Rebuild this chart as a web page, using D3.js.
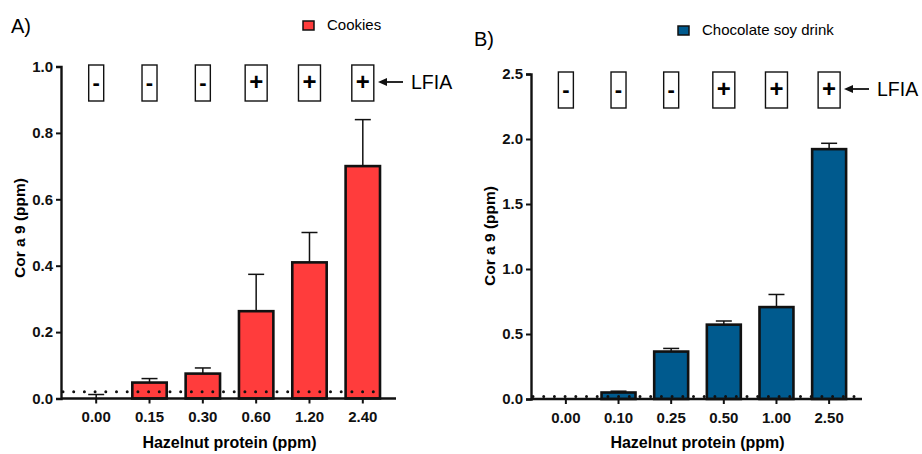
<!DOCTYPE html>
<html>
<head>
<meta charset="utf-8">
<script src="https://cdn.jsdelivr.net/npm/d3@7"></script>
<style>
  body { margin: 0; background: #fff; }
  text { font-family: "Liberation Sans", Arial, sans-serif; }
</style>
</head>
<body>
<div class="canvas"></div>
<script>
// panel A - cookies
const catsA = ['0.00', '0.15', '0.30', '0.60', '1.20', '2.40'];
const meanA = [0.0, 0.048, 0.075, 0.263, 0.41, 0.70];
const errA = [0.012, 0.012, 0.017, 0.111, 0.09, 0.14];
const lfiaA = ['-', '-', '-', '+', '+', '+'];
const ticksA = [0, 0.2, 0.4, 0.6, 0.8, 1.0];

// panel B - chocolate soy drink
const catsB = ['0.00', '0.10', '0.25', '0.50', '1.00', '2.50'];
const meanB = [0.0, 0.05, 0.365, 0.572, 0.707, 1.922];
const errB = [0.0, 0.01, 0.024, 0.028, 0.097, 0.045];
const lfiaB = ['-', '-', '-', '+', '+', '+'];
const ticksB = [0, 0.5, 1.0, 1.5, 2.0, 2.5];

const lodLine = 0.02;

const svg = d3.select('.canvas')
    .append('svg')
    .attr('width', 922)
    .attr('height', 454);

const drawPanel = (p) => {
    const y = d3.scaleLinear().domain([0, p.max]).range([p.bottom, p.top]);
    const x = d3.scaleBand().domain(p.cats).range([p.left + 10, p.right - 8]).paddingInner(0.355).paddingOuter(0.15);

    const g = svg.append('g');

    // panel letter + legend
    g.append('text').attr('x', p.letterX).attr('y', p.letterY)
        .attr('font-size', 20).text(p.letter);
    g.append('rect').attr('x', p.legX).attr('y', p.legY - 9)
        .attr('width', 11).attr('height', 9)
        .attr('fill', p.color).attr('stroke', '#111').attr('stroke-width', 1.5);
    g.append('text').attr('x', p.legX + 24).attr('y', p.legY)
        .attr('font-size', 15).text(p.legend);

    // bars
    g.selectAll('rect.bar')
        .data(p.mean)
        .enter()
        .append('rect')
            .attr('class', 'bar')
            .attr('x', (d, i) => x(p.cats[i]))
            .attr('y', d => y(d))
            .attr('width', x.bandwidth())
            .attr('height', d => y(0) - y(d))
            .attr('fill', p.color)
            .attr('stroke', d => d > 0 ? '#111' : 'none')
            .attr('stroke-width', 2.6);

    // error bars (upper only)
    const errs = g.selectAll('g.err')
        .data(p.mean.map((m, i) => ({ m, e: p.err[i], c: p.cats[i] })))
        .enter()
        .append('g');
    errs.filter(d => d.e > 0).append('line')
        .attr('x1', d => x(d.c) + x.bandwidth() / 2)
        .attr('x2', d => x(d.c) + x.bandwidth() / 2)
        .attr('y1', d => y(d.m))
        .attr('y2', d => y(d.m + d.e))
        .attr('stroke', '#111').attr('stroke-width', 1.5);
    errs.filter(d => d.e > 0).append('line')
        .attr('x1', d => x(d.c) + x.bandwidth() / 2 - 8)
        .attr('x2', d => x(d.c) + x.bandwidth() / 2 + 8)
        .attr('y1', d => y(d.m + d.e))
        .attr('y2', d => y(d.m + d.e))
        .attr('stroke', '#111').attr('stroke-width', 1.5);

    // dotted LOD line
    g.append('line')
        .attr('x1', p.left + 2).attr('x2', p.dotEnd)
        .attr('y1', y(lodLine)).attr('y2', y(lodLine))
        .attr('stroke', '#111').attr('stroke-width', 3)
        .attr('stroke-linecap', 'round')
        .attr('stroke-dasharray', `0 ${p.dotGap}`);

    // axes
    const yAxis = d3.axisLeft(y).tickValues(p.ticks).tickFormat(d3.format('.1f')).tickSize(5).tickPadding(3);
    const ya = g.append('g').attr('transform', `translate(${p.left},0)`).call(yAxis);
    const xAxis = d3.axisBottom(x).tickSize(5).tickPadding(8);
    const xa = g.append('g').attr('transform', `translate(0,${p.bottom})`).call(xAxis);
    xa.select('.domain').attr('d', `M${p.left},0H${p.right}`);
    [ya, xa].forEach(a => {
        a.select('.domain').attr('stroke', '#111').attr('stroke-width', 2.4);
        a.selectAll('.tick line').attr('stroke', '#111').attr('stroke-width', 2);
        a.selectAll('.tick text').attr('font-size', 15).attr('font-weight', 'bold')
            .attr('fill', '#111').attr('font-family', '"Liberation Sans", Arial, sans-serif');
    });

    // axis titles
    g.append('text')
        .attr('transform', `translate(${p.ylabX},${p.ylabY}) rotate(-90)`)
        .attr('text-anchor', 'middle').attr('font-size', 15.5).attr('font-weight', 'bold')
        .text('Cor a 9 (ppm)');
    g.append('text')
        .attr('x', (x(p.cats[0]) + x(p.cats[5]) + x.bandwidth()) / 2).attr('y', p.bottom + 49)
        .attr('text-anchor', 'middle').attr('font-size', 16).attr('font-weight', 'bold')
        .text('Hazelnut protein (ppm)');

    // LFIA strip boxes
    const boxes = g.selectAll('g.lfia')
        .data(p.lfia.map((s, i) => ({ s, c: p.cats[i] })))
        .enter()
        .append('g')
            .attr('transform', d => `translate(${x(d.c) + x.bandwidth() / 2},${p.boxTop})`);
    boxes.append('rect')
        .attr('x', d => d.s === '+' ? -11 : -7.5)
        .attr('width', d => d.s === '+' ? 22 : 15)
        .attr('height', 36)
        .attr('fill', 'none').attr('stroke', '#111').attr('stroke-width', 1.4);
    boxes.append('text')
        .attr('y', 25).attr('text-anchor', 'middle')
        .attr('font-size', d => d.s === '+' ? 24 : 22)
        .attr('font-weight', 'bold')
        .text(d => d.s);

    // arrow + label
    const ay = p.boxTop + 17;
    g.append('line').attr('x1', p.arrowX + 6).attr('x2', p.arrowX + 25)
        .attr('y1', ay).attr('y2', ay).attr('stroke', '#111').attr('stroke-width', 1.8);
    g.append('path')
        .attr('d', `M${p.arrowX},${ay}L${p.arrowX + 9},${ay - 4}L${p.arrowX + 9},${ay + 4}Z`)
        .attr('fill', '#111');
    g.append('text').attr('x', p.arrowX + 33).attr('y', ay + 7)
        .attr('font-size', 19.5).text('LFIA');
};

drawPanel({
    cats: catsA, mean: meanA, err: errA, lfia: lfiaA, ticks: ticksA, max: 1.0,
    left: 61, right: 396, top: 66.5, bottom: 398.5,
    color: '#ff3c3c', letter: 'A)', letterX: 11, letterY: 33,
    legend: 'Cookies', legX: 303, legY: 30,
    ylabX: 25, ylabY: 228, boxTop: 65, arrowX: 378, dotEnd: 380, dotGap: 10.7
});

drawPanel({
    cats: catsB, mean: meanB, err: errB, lfia: lfiaB, ticks: ticksB, max: 2.5,
    left: 531, right: 862, top: 74, bottom: 399,
    color: '#005a8e', letter: 'B)', letterX: 474, letterY: 46,
    legend: 'Chocolate soy drink', legX: 678, legY: 35,
    ylabX: 495, ylabY: 236, boxTop: 72, arrowX: 844, dotEnd: 862, dotGap: 10.7
});
</script>
</body>
</html>
